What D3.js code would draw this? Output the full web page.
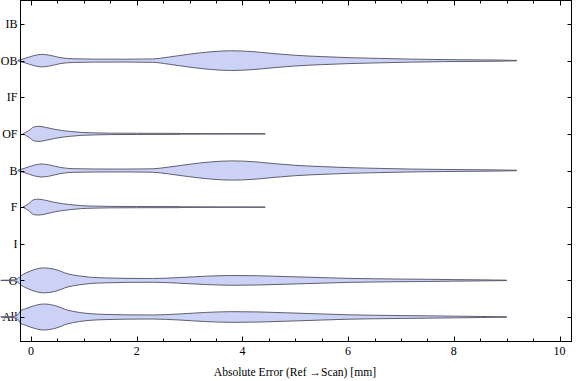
<!DOCTYPE html>
<html>
<head>
<meta charset="utf-8">
<script src="https://cdn.jsdelivr.net/npm/d3@7"></script>
<style>
  html, body { margin: 0; padding: 0; background: #fff; }
  svg { display: block; }
  text { font-family: "Liberation Serif", "Times New Roman", serif; font-size: 12px; fill: #000; }
</style>
</head>
<body>
<svg id="chart" width="576" height="381"></svg>
<script>
// ---- data ----
const categories = ["IB", "OB", "IF", "OF", "B", "F", "I", "O", "All"];
const xTickValues = [0, 2, 4, 6, 8, 10];
const xMinorStep = 0.5;
const xLabel = "Absolute Error (Ref \u2192Scan) [mm]";

// density profiles: error value (mm) and relative density (violin half-width)
const obX = [-0.25, -0.1, 0.05, 0.2, 0.35, 0.55, 0.8, 1.2, 1.8, 2.3, 2.6, 3.0, 3.4, 3.8, 4.2, 4.6, 5.0, 5.5, 6.0, 6.6, 7.2, 7.8, 8.4, 8.9, 9.19];
const obD = [0.02, 0.19, 0.38, 0.48, 0.42, 0.23, 0.14, 0.115, 0.11, 0.13, 0.27, 0.5, 0.68, 0.76, 0.69, 0.54, 0.41, 0.31, 0.23, 0.17, 0.115, 0.08, 0.06, 0.04, 0.015];

const bX = [-0.25, -0.1, 0.05, 0.2, 0.35, 0.55, 0.8, 1.2, 1.8, 2.3, 2.6, 3.0, 3.4, 3.8, 4.2, 4.6, 5.0, 5.5, 6.0, 6.6, 7.2, 7.8, 8.4, 8.9, 9.19];
const bD = [0.02, 0.2, 0.4, 0.5, 0.43, 0.24, 0.14, 0.115, 0.11, 0.13, 0.26, 0.48, 0.66, 0.74, 0.68, 0.53, 0.4, 0.3, 0.22, 0.16, 0.11, 0.08, 0.06, 0.04, 0.015];

const ofX = [-0.15, -0.05, 0.06, 0.15, 0.3, 0.45, 0.6, 0.75, 0.95, 1.2, 1.5, 2.0, 2.8, 2.85, 3.5, 4.43];
const ofD = [0.015, 0.23, 0.54, 0.58, 0.48, 0.35, 0.25, 0.185, 0.115, 0.077, 0.055, 0.046, 0.04, 0.023, 0.015, 0.011];

const fX = [-0.15, -0.05, 0.06, 0.15, 0.3, 0.45, 0.6, 0.75, 0.95, 1.2, 1.5, 2.0, 2.8, 2.85, 3.5, 4.43];
const fD = [0.015, 0.25, 0.58, 0.61, 0.5, 0.36, 0.26, 0.19, 0.115, 0.077, 0.055, 0.046, 0.04, 0.023, 0.015, 0.011];

const oX = [-0.57, -0.4, -0.28, -0.19, -0.1, 0.0, 0.25, 0.45, 0.7, 0.9, 1.1, 1.4, 1.8, 2.3, 2.8, 3.3, 3.8, 4.3, 4.85, 5.5, 6.0, 6.5, 7.0, 7.5, 8.0, 8.5, 9.0];
const oD = [0.01, 0.02, 0.06, 0.36, 0.56, 0.74, 0.96, 0.85, 0.5, 0.35, 0.25, 0.19, 0.155, 0.145, 0.215, 0.32, 0.375, 0.355, 0.29, 0.215, 0.155, 0.125, 0.1, 0.085, 0.06, 0.04, 0.015];

const allX = [-0.57, -0.4, -0.28, -0.19, -0.1, 0.0, 0.25, 0.45, 0.7, 0.9, 1.1, 1.4, 1.8, 2.3, 2.8, 3.3, 3.8, 4.3, 4.85, 5.5, 6.0, 6.5, 7.0, 7.5, 8.0, 8.5, 9.0];
const allD = [0.01, 0.03, 0.08, 0.5, 0.64, 0.79, 1.0, 0.88, 0.52, 0.36, 0.26, 0.2, 0.165, 0.155, 0.23, 0.35, 0.41, 0.39, 0.32, 0.235, 0.17, 0.135, 0.11, 0.09, 0.065, 0.04, 0.015];

const violins = [
  { cat: "OB", xs: obX, ds: obD },
  { cat: "OF", xs: ofX, ds: ofD },
  { cat: "B", xs: bX, ds: bD },
  { cat: "F", xs: fX, ds: fD },
  { cat: "O", xs: oX, ds: oD },
  { cat: "All", xs: allX, ds: allD }
];

// ---- layout ----
const svg = d3.select("#chart");
const frame = { left: 20.5, right: 571.5, top: 0.5, bottom: 341.5 };

const x = d3.scaleLinear().domain([0, 10]).range([31, 559.5]);
const y = d3.scalePoint().domain(categories).range([24, 317]);
const w = d3.scaleLinear().domain([0, 1]).range([0, 13]);

// y tick labels (under violins)
svg.append("g").selectAll("text")
  .data(categories).join("text")
  .attr("x", 17.5)
  .attr("y", d => y(d))
  .attr("dy", "0.35em")
  .attr("text-anchor", "end")
  .text(d => d);

// violins
const area = d3.area()
  .curve(d3.curveMonotoneX)
  .x(d => x(d[0]));

svg.append("g").selectAll("path")
  .data(violins).join("path")
  .attr("d", v => {
    const cy = y(v.cat);
    const pts = v.xs.map((xv, i) => [xv, v.ds[i]]);
    return area.y0(d => cy - w(d[1])).y1(d => cy + w(d[1]))(pts);
  })
  .attr("fill", "#ccd2f5")
  .attr("stroke", "#505060")
  .attr("stroke-width", 0.9)
  .attr("stroke-linejoin", "round");

// frame
svg.append("rect")
  .attr("x", frame.left).attr("y", frame.top)
  .attr("width", frame.right - frame.left)
  .attr("height", frame.bottom - frame.top)
  .attr("fill", "none").attr("stroke", "#000").attr("stroke-width", 1);

// x ticks (bottom & top, inward)
const minorTicks = d3.range(0, 10.0001, xMinorStep).filter(v => !xTickValues.includes(v));
const tg = svg.append("g").attr("stroke", "#000").attr("stroke-width", 1);
xTickValues.forEach(v => {
  const px = Math.round(x(v)) + 0.5;
  tg.append("line").attr("x1", px).attr("x2", px).attr("y1", frame.bottom).attr("y2", frame.bottom - 5);
  tg.append("line").attr("x1", px).attr("x2", px).attr("y1", frame.top).attr("y2", frame.top + 5);
});
minorTicks.forEach(v => {
  const px = Math.round(x(v)) + 0.5;
  tg.append("line").attr("x1", px).attr("x2", px).attr("y1", frame.bottom).attr("y2", frame.bottom - 3);
  tg.append("line").attr("x1", px).attr("x2", px).attr("y1", frame.top).attr("y2", frame.top + 3);
});
// y ticks (left & right, inward)
categories.forEach(c => {
  const py = Math.round(y(c)) + 0.5;
  tg.append("line").attr("x1", frame.left).attr("x2", frame.left + 4).attr("y1", py).attr("y2", py);
  tg.append("line").attr("x1", frame.right).attr("x2", frame.right - 4).attr("y1", py).attr("y2", py);
});

// x tick labels
svg.append("g").selectAll("text")
  .data(xTickValues).join("text")
  .attr("x", d => x(d))
  .attr("y", 355)
  .attr("text-anchor", "middle")
  .text(d => d);

// x axis label
svg.append("text")
  .attr("x", 295)
  .attr("y", 376)
  .attr("text-anchor", "middle")
  .style("font-size", "11.6px")
  .text(xLabel);
</script>
</body>
</html>
